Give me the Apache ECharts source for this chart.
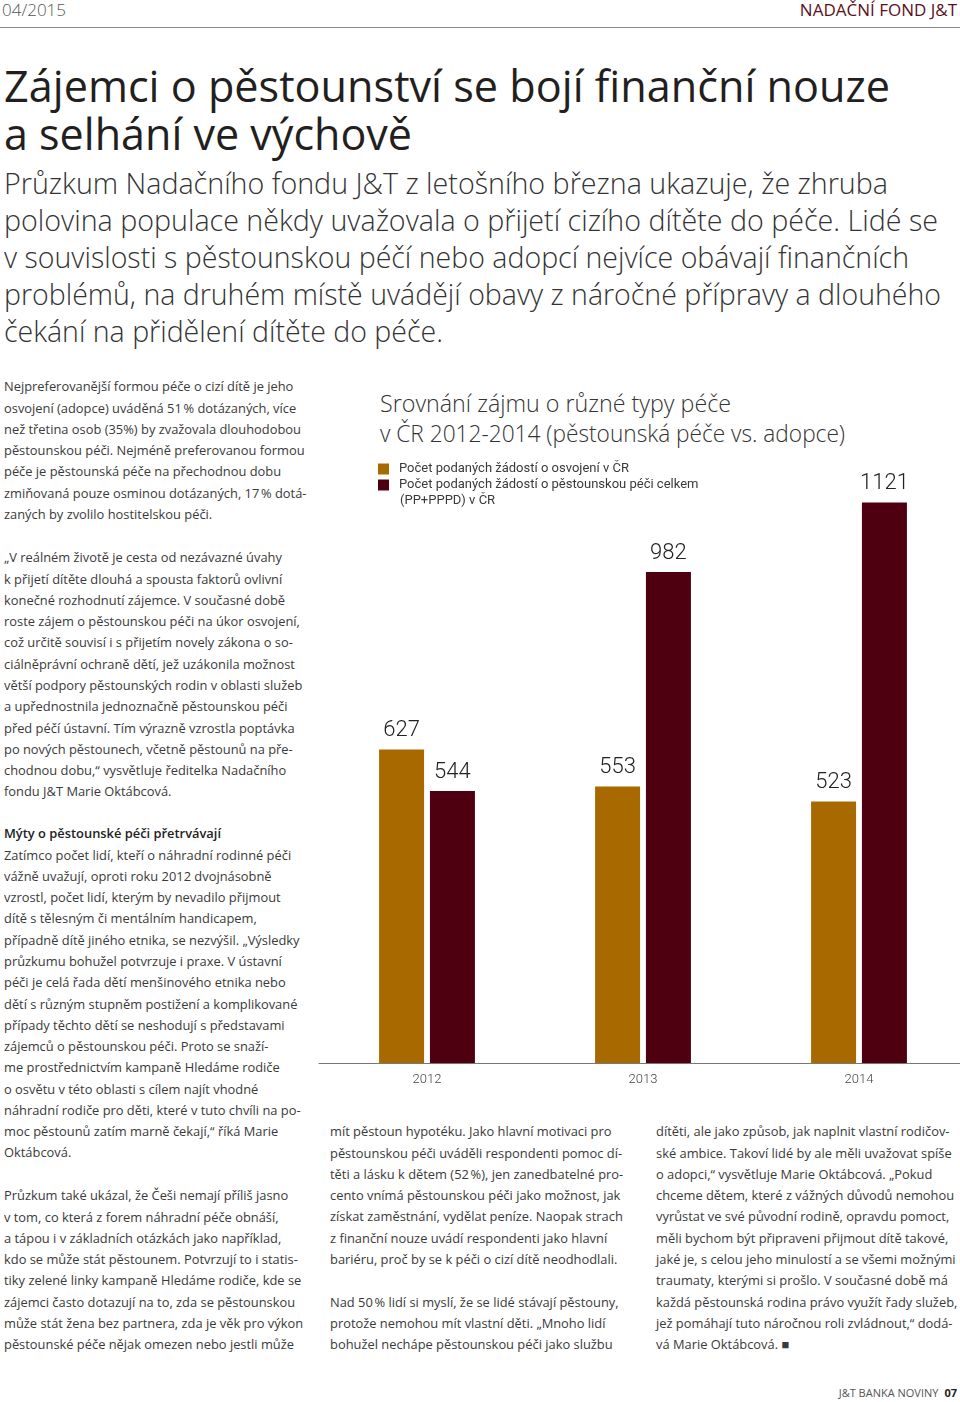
<!DOCTYPE html>
<html lang="cs">
<head>
<meta charset="utf-8">
<title>Zájemci o pěstounství</title>
<script src="https://cdn.jsdelivr.net/npm/echarts@6/dist/echarts.min.js"></script>
<style>
html,body{margin:0;padding:0;background:#fff;}
body{width:960px;height:1402px;position:relative;overflow:hidden;font-family:"Open Sans",sans-serif;color:#333;}
.abs{position:absolute;}
.ln{display:block;white-space:nowrap;}
.fit{display:inline-block;white-space:nowrap;transform-origin:0 50%;}
#hdrL{left:2px;top:0;font-size:17px;line-height:20px;color:#555;font-weight:300;}
#hdrR{right:3px;top:0;font-size:17px;line-height:20px;color:#5b0f1e;font-weight:400;}
#rule{left:0;top:27px;width:960px;height:1px;background:#8a8a8a;}
#headline{left:4px;top:61px;font-size:44px;line-height:48px;color:#231f20;font-weight:500;}
#intro{left:4px;top:163.5px;font-size:29px;line-height:37px;color:#333;font-weight:300;}
#ctitle{left:380px;top:388px;font-size:24px;line-height:30px;color:#333;font-weight:300;}
.body{font-size:13px;line-height:21.27px;color:#3a3a3a;transform-origin:0 0;}
.body b{font-weight:600;color:#222;}
#foot{right:3px;top:1386px;font-size:11px;line-height:14px;color:#555;}
#foot b{font-weight:700;color:#222;margin-left:6px;}
#chart{left:310px;top:380px;width:660px;height:720px;}
</style>
</head>
<body>
<div id="hdrL" class="abs">04/2015</div>
<div id="hdrR" class="abs">NADAČNÍ FOND J&amp;T</div>
<div id="rule" class="abs"></div>

<div id="headline" class="abs">
<span class="ln"><span class="fit" data-w="886">Zájemci o pěstounství se bojí finanční nouze</span></span>
<span class="ln"><span class="fit" data-w="408">a selhání ve výchově</span></span>
</div>

<div id="intro" class="abs">
<span class="ln"><span class="fit" data-w="884">Průzkum Nadačního fondu J&amp;T z letošního března ukazuje, že zhruba</span></span>
<span class="ln"><span class="fit" data-w="934">polovina populace někdy uvažovala o přijetí cizího dítěte do péče. Lidé se</span></span>
<span class="ln"><span class="fit" data-w="905">v souvislosti s pěstounskou péčí nebo adopcí nejvíce obávají finančních</span></span>
<span class="ln"><span class="fit" data-w="937">problémů, na druhém místě uvádějí obavy z náročné přípravy a dlouhého</span></span>
<span class="ln"><span class="fit" data-w="439">čekání na přidělení dítěte do péče.</span></span>
</div>

<div id="ctitle" class="abs">
<span class="ln"><span class="fit" data-w="351">Srovnání zájmu o různé typy péče</span></span>
<span class="ln"><span class="fit" data-w="465">v ČR 2012-2014 (pěstounská péče vs. adopce)</span></span>
</div>

<div class="abs body" style="left:4px;top:376.4px;">
<span class="ln">Nejpreferovanější formou péče o cizí dítě je jeho</span>
<span class="ln">osvojení (adopce) uváděná 51&#8239;% dotázaných, více</span>
<span class="ln"><span id="refLine">než třetina osob (35%) by zvažovala dlouhodobou</span></span>
<span class="ln">pěstounskou péči. Nejméně preferovanou formou</span>
<span class="ln">péče je pěstounská péče na přechodnou dobu</span>
<span class="ln">zmiňovaná pouze osminou dotázaných, 17&#8239;% dotá-</span>
<span class="ln">zaných by zvolilo hostitelskou péči.</span>
</div>

<div class="abs body" style="left:4px;top:547.4px;">
<span class="ln">„V reálném životě je cesta od nezávazné úvahy</span>
<span class="ln">k přijetí dítěte dlouhá a spousta faktorů ovlivní</span>
<span class="ln">konečné rozhodnutí zájemce. V současné době</span>
<span class="ln">roste zájem o pěstounskou péči na úkor osvojení,</span>
<span class="ln">což určitě souvisí i s přijetím novely zákona o so-</span>
<span class="ln">ciálněprávní ochraně dětí, jež uzákonila možnost</span>
<span class="ln">větší podpory pěstounských rodin v oblasti služeb</span>
<span class="ln">a upřednostnila jednoznačně pěstounskou péči</span>
<span class="ln">před péčí ústavní. Tím výrazně vzrostla poptávka</span>
<span class="ln">po nových pěstounech, včetně pěstounů na pře-</span>
<span class="ln">chodnou dobu,“ vysvětluje ředitelka Nadačního</span>
<span class="ln">fondu J&amp;T Marie Oktábcová.</span>
</div>

<div class="abs body" style="left:4px;top:823.4px;">
<span class="ln"><b>Mýty o pěstounské péči přetrvávají</b></span>
<span class="ln">Zatímco počet lidí, kteří o náhradní rodinné péči</span>
<span class="ln">vážně uvažují, oproti roku 2012 dvojnásobně</span>
<span class="ln">vzrostl, počet lidí, kterým by nevadilo přijmout</span>
<span class="ln">dítě s tělesným či mentálním handicapem,</span>
<span class="ln">případně dítě jiného etnika, se nezvýšil. „Výsledky</span>
<span class="ln">průzkumu bohužel potvrzuje i praxe. V ústavní</span>
<span class="ln">péči je celá řada dětí menšinového etnika nebo</span>
<span class="ln">dětí s různým stupněm postižení a komplikované</span>
<span class="ln">případy těchto dětí se neshodují s představami</span>
<span class="ln">zájemců o pěstounskou péči. Proto se snaží-</span>
<span class="ln">me prostřednictvím kampaně Hledáme rodiče</span>
<span class="ln">o osvětu v této oblasti s cílem najít vhodné</span>
<span class="ln">náhradní rodiče pro děti, které v tuto chvíli na po-</span>
<span class="ln">moc pěstounů zatím marně čekají,“ říká Marie</span>
<span class="ln">Oktábcová.</span>
</div>

<div class="abs body" style="left:4px;top:1185.4px;">
<span class="ln">Průzkum také ukázal, že Češi nemají příliš jasno</span>
<span class="ln">v tom, co která z forem náhradní péče obnáší,</span>
<span class="ln">a tápou i v základních otázkách jako například,</span>
<span class="ln">kdo se může stát pěstounem. Potvrzují to i statis-</span>
<span class="ln">tiky zelené linky kampaně Hledáme rodiče, kde se</span>
<span class="ln">zájemci často dotazují na to, zda se pěstounskou</span>
<span class="ln">může stát žena bez partnera, zda je věk pro výkon</span>
<span class="ln">pěstounské péče nějak omezen nebo jestli může</span>
</div>

<div class="abs body" style="left:330px;top:1121.4px;">
<span class="ln">mít pěstoun hypotéku. Jako hlavní motivaci pro</span>
<span class="ln">pěstounskou péči uváděli respondenti pomoc dí-</span>
<span class="ln">těti a lásku k dětem (52&#8239;%), jen zanedbatelné pro-</span>
<span class="ln">cento vnímá pěstounskou péči jako možnost, jak</span>
<span class="ln">získat zaměstnání, vydělat peníze. Naopak strach</span>
<span class="ln">z finanční nouze uvádí respondenti jako hlavní</span>
<span class="ln">bariéru, proč by se k péči o cizí dítě neodhodlali.</span>
<span class="ln">&nbsp;</span>
<span class="ln">Nad 50&#8239;% lidí si myslí, že se lidé stávají pěstouny,</span>
<span class="ln">protože nemohou mít vlastní děti. „Mnoho lidí</span>
<span class="ln">bohužel nechápe pěstounskou péči jako službu</span>
</div>

<div class="abs body" style="left:656px;top:1121.4px;">
<span class="ln">dítěti, ale jako způsob, jak naplnit vlastní rodičov-</span>
<span class="ln">ské ambice. Takoví lidé by ale měli uvažovat spíše</span>
<span class="ln">o adopci,“ vysvětluje Marie Oktábcová. „Pokud</span>
<span class="ln">chceme dětem, které z vážných důvodů nemohou</span>
<span class="ln">vyrůstat ve své původní rodině, opravdu pomoct,</span>
<span class="ln">měli bychom být připraveni přijmout dítě takové,</span>
<span class="ln">jaké je, s celou jeho minulostí a se všemi možnými</span>
<span class="ln">traumaty, kterými si prošlo. V současné době má</span>
<span class="ln">každá pěstounská rodina právo využít řady služeb,</span>
<span class="ln">jež pomáhají tuto náročnou roli zvládnout,“ dodá-</span>
<span class="ln">vá Marie Oktábcová. ■</span>
</div>

<div id="foot" class="abs">J&amp;T BANKA NOVINY<b>07</b></div>

<div id="chart" class="abs"></div>

<script>
// ---- data ----
const years = ['2012', '2013', '2014'];
const adoptionRequests = [627, 553, 523];
const fosterRequests = [544, 982, 1121];
const seriesNames = [
  'Počet podaných žádostí o osvojení v ČR',
  'Počet podaných žádostí o pěstounskou péči celkem'
];
const legendExtraLine = '(PP+PPPD) v ČR';

// ---- text fitting (layout of page text) ----
function fitText() {
  document.querySelectorAll('.fit').forEach(function (el) {
    el.style.transform = 'none';
    const w = el.getBoundingClientRect().width;
    if (w > 0) el.style.transform = 'scaleX(' + (+el.dataset.w / w) + ')';
  });
  const ref = document.getElementById('refLine');
  const bodies = document.querySelectorAll('.body');
  bodies.forEach(function (b) { b.style.transform = 'none'; });
  const rw = ref.getBoundingClientRect().width;
  const s = 297 / rw;
  bodies.forEach(function (b) { b.style.transform = 'scaleX(' + s + ')'; });
}
fitText();
if (document.fonts && document.fonts.ready) document.fonts.ready.then(fitText);

// ---- chart ----
const chart = echarts.init(document.getElementById('chart'), null, { renderer: 'canvas' });
const labelStyle = {
  show: true,
  position: 'top',
  distance: 8,
  fontFamily: 'Roboto',
  fontWeight: 300,
  fontSize: 22,
  color: '#222'
};
chart.setOption({
  animation: false,
  grid: { left: 9, right: 3, top: 83, bottom: 37 },
  legend: {
    orient: 'vertical',
    left: 68,
    top: 81,
    padding: 0,
    itemWidth: 11,
    itemHeight: 11,
    itemGap: 0,
    icon: 'rect',
    selectedMode: false,
    textStyle: { fontFamily: 'Roboto', fontSize: 13, lineHeight: 16, color: '#3a3a3a', padding: [0, 0, 0, 5] },
    data: seriesNames
  },
  graphic: [{
    type: 'text',
    left: 90,
    top: 113,
    style: { text: legendExtraLine, fontFamily: 'Roboto', fontSize: 13, lineHeight: 16, fill: '#3a3a3a' }
  }],
  xAxis: {
    type: 'category',
    data: years,
    axisLine: { show: true, lineStyle: { color: '#777', width: 1 } },
    axisTick: { show: false },
    axisLabel: { margin: 10, fontFamily: 'Roboto', fontWeight: 300, fontSize: 13, color: '#444' }
  },
  yAxis: {
    type: 'value',
    min: 0,
    max: 1200,
    show: false,
    splitLine: { show: false }
  },
  series: [
    {
      name: seriesNames[0],
      type: 'bar',
      data: adoptionRequests,
      barWidth: 45,
      barGap: '13%',
      itemStyle: { color: '#a86a00' },
      label: labelStyle
    },
    {
      name: seriesNames[1],
      type: 'bar',
      data: fosterRequests,
      barWidth: 45,
      barGap: '13%',
      itemStyle: { color: '#4e0011' },
      label: labelStyle
    }
  ]
});
</script>
</body>
</html>
